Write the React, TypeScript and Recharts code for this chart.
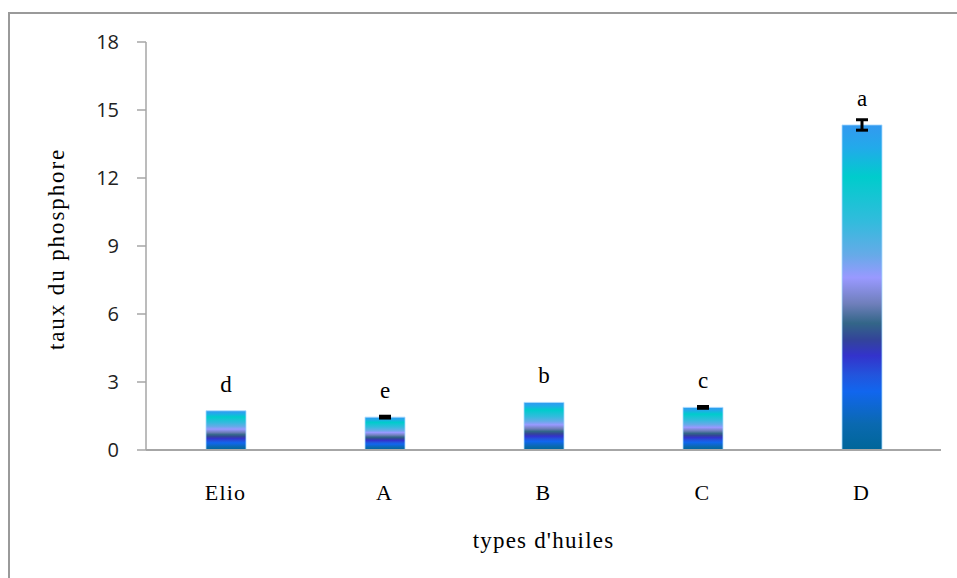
import React from 'react';
import { BarChart, Bar, XAxis, YAxis, ErrorBar, LabelList, Label } from 'recharts';

// Phosphorus content per oil type
const categories = ['Elio', 'A', 'B', 'C', 'D'];
const values = [1.73, 1.45, 2.1, 1.88, 14.34];
const errors: (number | null)[] = [null, 0.04, null, 0.04, 0.23];
const groups = ['d', 'e', 'b', 'c', 'a'];
const yTicks = [0, 3, 6, 9, 12, 15, 18];

const data = categories.map((name, i) => ({
  name,
  value: values[i],
  err: errors[i],
  group: groups[i],
}));

const serif = '"Liberation Serif", "Times New Roman", serif';
const sans = '"Open Sans", "Noto Sans", sans-serif';

const gradientStops: [number, string][] = [
  [0, '#3399f0'],
  [0.07, '#22aaea'],
  [0.16, '#00cccc'],
  [0.3, '#33bbdd'],
  [0.4, '#66aae8'],
  [0.47, '#9999ff'],
  [0.55, '#6f7fbb'],
  [0.61, '#336688'],
  [0.66, '#334499'],
  [0.71, '#3333cc'],
  [0.77, '#2255dd'],
  [0.82, '#1166ee'],
  [0.92, '#0a69b0'],
  [1, '#006699'],
];

const titleStyle: React.CSSProperties = {
  fontFamily: serif,
  fontSize: 23,
  letterSpacing: 1.2,
  fill: '#000',
};

const YTitle = (props: any) => {
  const vb = props.viewBox || { x: 0, y: 0, width: 0, height: 0 };
  const x = vb.x + 64;
  const y = vb.y + vb.height / 2 + 3;
  return (
    <text
      x={x}
      y={y}
      transform={`rotate(-90 ${x} ${y})`}
      textAnchor="middle"
      style={{ ...titleStyle, letterSpacing: 1.9 }}
    >
      taux du phosphore
    </text>
  );
};

const XTitle = (props: any) => {
  const vb = props.viewBox || { x: 0, y: 0, width: 0, height: 0 };
  return (
    <text x={vb.x + vb.width / 2} y={548} textAnchor="middle" style={titleStyle}>
      types d'huiles
    </text>
  );
};

export default function App() {
  return (
    <div style={{ position: 'absolute', left: 0, top: 0, width: 957, height: 578, overflow: 'hidden', background: '#fff' }}>
      <div
        style={{
          position: 'absolute',
          left: 8,
          top: 12,
          width: 980,
          height: 600,
          borderLeft: '2px solid #9a9a9a',
          borderTop: '2px solid #9a9a9a',
        }}
      />
      <div style={{ position: 'absolute', left: 0, top: 0 }}>
        <BarChart
          width={957}
          height={578}
          data={data}
          margin={{ top: 42, right: 16, bottom: 0, left: 0 }}
          barCategoryGap={0}
        >
          <defs>
            <linearGradient id="barFill" x1="0" y1="0" x2="0" y2="1">
              {gradientStops.map(([o, c]) => (
                <stop key={o} offset={o} stopColor={c} />
              ))}
            </linearGradient>
          </defs>
          <XAxis
            dataKey="name"
            height={128}
            tickLine={false}
            tickSize={0}
            tickMargin={34}
            axisLine={{ stroke: '#a6a6a6', strokeWidth: 2 }}
            tick={{ fontFamily: serif, fontSize: 22, fill: '#000', letterSpacing: 1.2 } as any}
            interval={0}
          >
            <Label content={XTitle} />
          </XAxis>
          <YAxis
            width={146}
            domain={[0, 18]}
            ticks={yTicks}
            interval={0}
            tickSize={9}
            tickMargin={18}
            axisLine={{ stroke: '#a6a6a6', strokeWidth: 1.5 }}
            tickLine={{ stroke: '#a6a6a6', strokeWidth: 1.5 }}
            tick={{ fontFamily: sans, fontSize: 20, fill: '#222' }}
          >
            <Label content={YTitle} />
          </YAxis>
          <Bar
            dataKey="value"
            fill="url(#barFill)"
            stroke="#a8dcff"
            strokeWidth={0.8}
            barSize={40}
            isAnimationActive={false}
          >
            <ErrorBar dataKey="err" width={6} stroke="#000" strokeWidth={3} direction="y" />
            <LabelList
              dataKey="group"
              position="top"
              offset={19}
              style={{ fontFamily: serif, fontSize: 23, fill: '#000' }}
            />
          </Bar>
        </BarChart>
      </div>
    </div>
  );
}
